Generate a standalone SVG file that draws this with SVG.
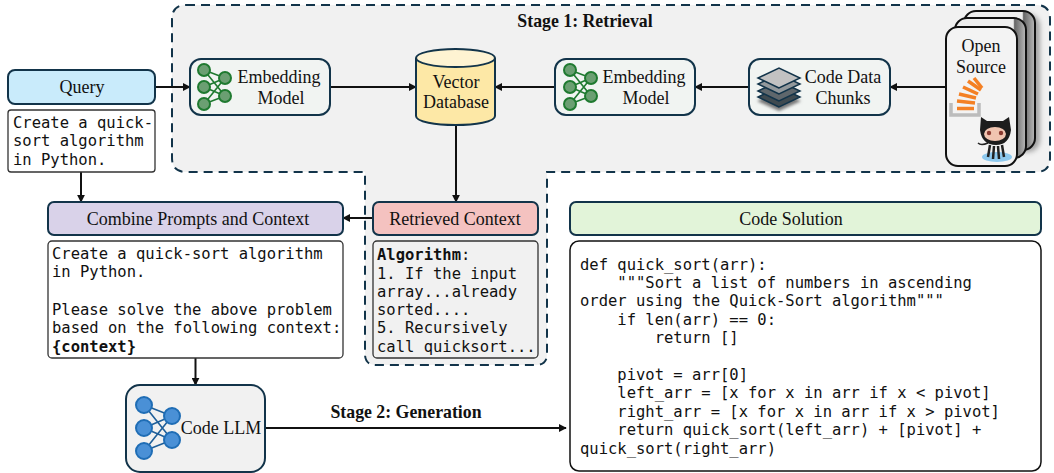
<svg xmlns="http://www.w3.org/2000/svg" width="1054" height="473" viewBox="0 0 1054 473">
<defs>
<marker id="arr" viewBox="0 0 10 10" refX="9" refY="5" markerWidth="8" markerHeight="8" markerUnits="userSpaceOnUse" orient="auto"><path d="M0 0L10 5L0 10Z" fill="#111"/></marker>
<linearGradient id="shad" x1="0" x2="1" y1="0" y2="0"><stop offset="0" stop-color="#eee"/><stop offset=".82" stop-color="#eee"/><stop offset=".84" stop-color="#666"/><stop offset="1" stop-color="#bbb"/></linearGradient>
<filter id="blur" x="-30%" y="-30%" width="160%" height="160%"><feGaussianBlur stdDeviation="2.5"/></filter>
<filter id="blur1" x="-30%" y="-30%" width="160%" height="160%"><feGaussianBlur stdDeviation="1.5"/></filter>
</defs>
<style>
.box{stroke:#12344a;stroke-width:2}
.t{font-family:"Liberation Serif","Times New Roman",serif;font-size:18px;fill:#111;text-anchor:middle}
.b{font-family:"Liberation Serif","Times New Roman",serif;font-size:17.8px;font-weight:bold;fill:#111;text-anchor:middle}
.m{font-family:"DejaVu Sans Mono",monospace;font-size:15.5px;fill:#111;white-space:pre}
.mb{font-weight:bold}
.tb{stroke:#333;stroke-width:1.3}
.c{stroke:#111;stroke-width:2;fill:none;marker-end:url(#arr)}
.ge circle{fill:#6b9f72;stroke:#1f7a30;stroke-width:2}
.ge path{stroke:#1f7a30;stroke-width:1.6;fill:none}
.bl circle{fill:#4a90d6;stroke:#1f6db5;stroke-width:2}
.bl path{stroke:#1f5f99;stroke-width:1.6;fill:none}
</style>

<g id="stage1">
<path d="M186 5H1036Q1050 5 1050 19V158Q1050 172 1036 172H547V354Q547 365 536 365H376Q365 365 365 354V172H186Q172 172 172 158V19Q172 5 186 5Z" fill="#f1f1f1" stroke="#12344a" stroke-width="2" stroke-dasharray="9 6"/>
<text class="b" x="585" y="27">Stage 1: Retrieval</text>
</g>

<g id="connectors">
<path class="c" d="M155 87H190"/>
<path class="c" d="M330 87H416"/>
<path class="c" d="M555 87H495"/>
<path class="c" d="M749 87H695"/>
<path class="c" d="M946 87H890"/>
<path class="c" d="M456 125V202"/>
<path class="c" d="M373 218H343"/>
<path class="c" d="M81 172V202"/>
<path class="c" d="M195.500 358V385"/>
<path class="c" d="M265 428H566"/>
</g>

<g id="query"><rect class="box" x="8" y="70" width="147" height="34" rx="7" fill="#c9ebfb"/><text class="t" x="82" y="93">Query</text></g>
<g id="query-text"><rect class="tb" x="8" y="110" width="147" height="62" rx="3" fill="#fff"/>
<text class="m"><tspan x="13" y="128">Create a quick-</tspan><tspan x="13" y="146">sort algorithm</tspan><tspan x="13" y="165">in Python.</tspan></text></g>

<g id="embed1"><rect class="box" x="190" y="59" width="140" height="56" rx="11" fill="#f1f4f2"/>
<g class="ge"><path d="M204 70L225 78M204 70L225 96M204 87L225 78M204 87L225 96M204 104L225 78M204 104L225 96"/><circle cx="204" cy="70" r="6"/><circle cx="204" cy="87" r="6"/><circle cx="204" cy="104" r="6"/><circle cx="225" cy="78" r="6"/><circle cx="225" cy="96" r="6"/></g>
<text class="t"><tspan x="279" y="83">Embedding</tspan><tspan x="281" y="104">Model</tspan></text></g>

<g id="vector-db">
<path d="M416 58V116C416 122 436 125 455.500 125C475 125 495 122 495 116V58" fill="#fde8a6" class="box"/>
<ellipse cx="455.500" cy="58" rx="39.500" ry="9" fill="#fef3d2" class="box"/>
<text class="t"><tspan x="456" y="88">Vector</tspan><tspan x="456" y="108">Database</tspan></text></g>

<g id="embed2"><rect class="box" x="555" y="59" width="140" height="56" rx="11" fill="#f1f4f2"/>
<g class="ge"><path d="M570 70L591 78M570 70L591 96M570 87L591 78M570 87L591 96M570 104L591 78M570 104L591 96"/><circle cx="570" cy="70" r="6"/><circle cx="570" cy="87" r="6"/><circle cx="570" cy="104" r="6"/><circle cx="591" cy="78" r="6"/><circle cx="591" cy="96" r="6"/></g>
<text class="t"><tspan x="644" y="83">Embedding</tspan><tspan x="646" y="104">Model</tspan></text></g>

<g id="code-chunks"><rect class="box" x="749" y="59" width="141" height="56" rx="11" fill="#f1f4f2"/>
<path d="M779 111L757 101L779 91L801 101Z" fill="#777" filter="url(#blur1)"/>
<g stroke="#12344a" stroke-width="1.500">
<path d="M779 107L758 97L779 87L800 97Z" fill="#3f4a50"/><path d="M779 101L758 91L779 81L800 91Z" fill="#5f676c"/><path d="M779 94L758 84L779 74L800 84Z" fill="#93999c"/><path d="M779 88L758 78L779 68L800 78Z" fill="#c2c2c2"/></g>
<text class="t"><tspan x="843" y="83">Code Data</tspan><tspan x="843" y="104">Chunks</tspan></text></g>

<g id="open-source">
<rect x="970" y="14" width="70" height="138" rx="12" fill="#555" opacity=".5" filter="url(#blur)"/>
<rect x="964" y="11" width="71" height="139" rx="12" fill="url(#shad)" stroke="#111" stroke-width="2"/>
<rect x="955" y="18" width="71" height="140" rx="12" fill="url(#shad)" stroke="#111" stroke-width="2"/>
<rect x="946" y="27" width="71" height="139" rx="12" fill="#f3f3f3" stroke="#111" stroke-width="2"/>
<text class="t"><tspan x="981" y="52">Open</tspan><tspan x="981" y="73">Source</tspan></text>
<path d="M951 103V115H979V103" fill="none" stroke="#bcbcbc" stroke-width="3.500"/>
<g stroke="#f48024" stroke-width="3.500" fill="none"><path d="M957 108.500H974"/><path d="M957 101L975 103"/><path d="M959 94L976 98"/><path d="M963 87L978 94"/><path d="M968 81L981 90"/><path d="M974 78L982 88"/></g>
<ellipse cx="997" cy="157" rx="15" ry="5" fill="#8ec9ee"/>
<path d="M988 143Q981 146 978 143" stroke="#222" stroke-width="1.500" fill="none"/>
<path d="M990 145L988 157M994 146L993 159M998 146L999 159M1002 145L1004 157" stroke="#222" stroke-width="2.500" fill="none"/>
<path d="M981 117L987 121H1003L1009 117L1011 130Q1009 145 996 145Q982 145 980 130Z" fill="#1d1d1d"/>
<ellipse cx="995" cy="134" rx="11" ry="7" fill="#f0c4b0"/>
<circle cx="989" cy="133" r="2.200" fill="#8a3a30"/><circle cx="1001" cy="133" r="2.200" fill="#8a3a30"/>
</g>

<g id="combine"><rect class="box" x="48" y="202" width="295" height="33" rx="6" fill="#d9d2e9"/><text class="t" x="198" y="225">Combine Prompts and Context</text></g>
<g id="combine-text"><rect class="tb" x="48" y="241" width="295" height="117" rx="4" fill="#fff"/>
<text class="m"><tspan x="52" y="259">Create a quick-sort algorithm</tspan><tspan x="52" y="277">in Python.</tspan><tspan x="52" y="315">Please solve the above problem</tspan><tspan x="52" y="333">based on the following context:</tspan><tspan x="52" y="352" class="mb">{context}</tspan></text></g>

<g id="retrieved"><rect class="box" x="373" y="202" width="165" height="33" rx="6" fill="#f4c2c0"/><text class="t" x="455" y="225">Retrieved Context</text></g>
<g id="retrieved-text"><rect class="tb" x="373" y="241" width="165" height="117" rx="4" fill="#f1f1f1"/>
<text class="m"><tspan x="377" y="260" class="mb">Algorithm</tspan><tspan>:</tspan><tspan x="377" y="279">1. If the input</tspan><tspan x="377" y="297">array...already</tspan><tspan x="377" y="315">sorted....</tspan><tspan x="377" y="333">5. Recursively</tspan><tspan x="377" y="352">call quicksort...</tspan></text></g>

<g id="code-llm"><rect class="box" x="126" y="385" width="139" height="87" rx="14" fill="#f1f1f1"/>
<g class="bl"><path d="M144 405L172 416M144 405L172 440M144 428L172 416M144 428L172 440M144 451L172 416M144 451L172 440"/><circle cx="144" cy="405" r="8"/><circle cx="144" cy="428" r="8"/><circle cx="144" cy="451" r="8"/><circle cx="172" cy="416" r="8"/><circle cx="172" cy="440" r="8"/></g>
<text class="t" x="221" y="434">Code LLM</text></g>

<g id="stage2"><text class="b" x="406" y="418">Stage 2: Generation</text></g>

<g id="solution"><rect class="box" x="570" y="202" width="471" height="33" rx="6" fill="#e2f4d9"/><text class="t" x="791" y="225">Code Solution</text></g>
<g id="solution-text"><rect stroke="#111" stroke-width="1.500" x="570" y="241" width="471" height="230" rx="9" fill="#fff"/>
<text class="m"><tspan x="580" y="270">def quick_sort(arr):</tspan><tspan x="580" y="288">    """Sort a list of numbers in ascending</tspan><tspan x="580" y="306">order using the Quick-Sort algorithm"""</tspan><tspan x="580" y="325">    if len(arr) == 0:</tspan><tspan x="580" y="343">        return []</tspan><tspan x="580" y="380">    pivot = arr[0]</tspan><tspan x="580" y="398">    left_arr = [x for x in arr if x &lt; pivot]</tspan><tspan x="580" y="417">    right_arr = [x for x in arr if x &gt; pivot]</tspan><tspan x="580" y="435">    return quick_sort(left_arr) + [pivot] +</tspan><tspan x="580" y="454">quick_sort(right_arr)</tspan></text></g>
</svg>
